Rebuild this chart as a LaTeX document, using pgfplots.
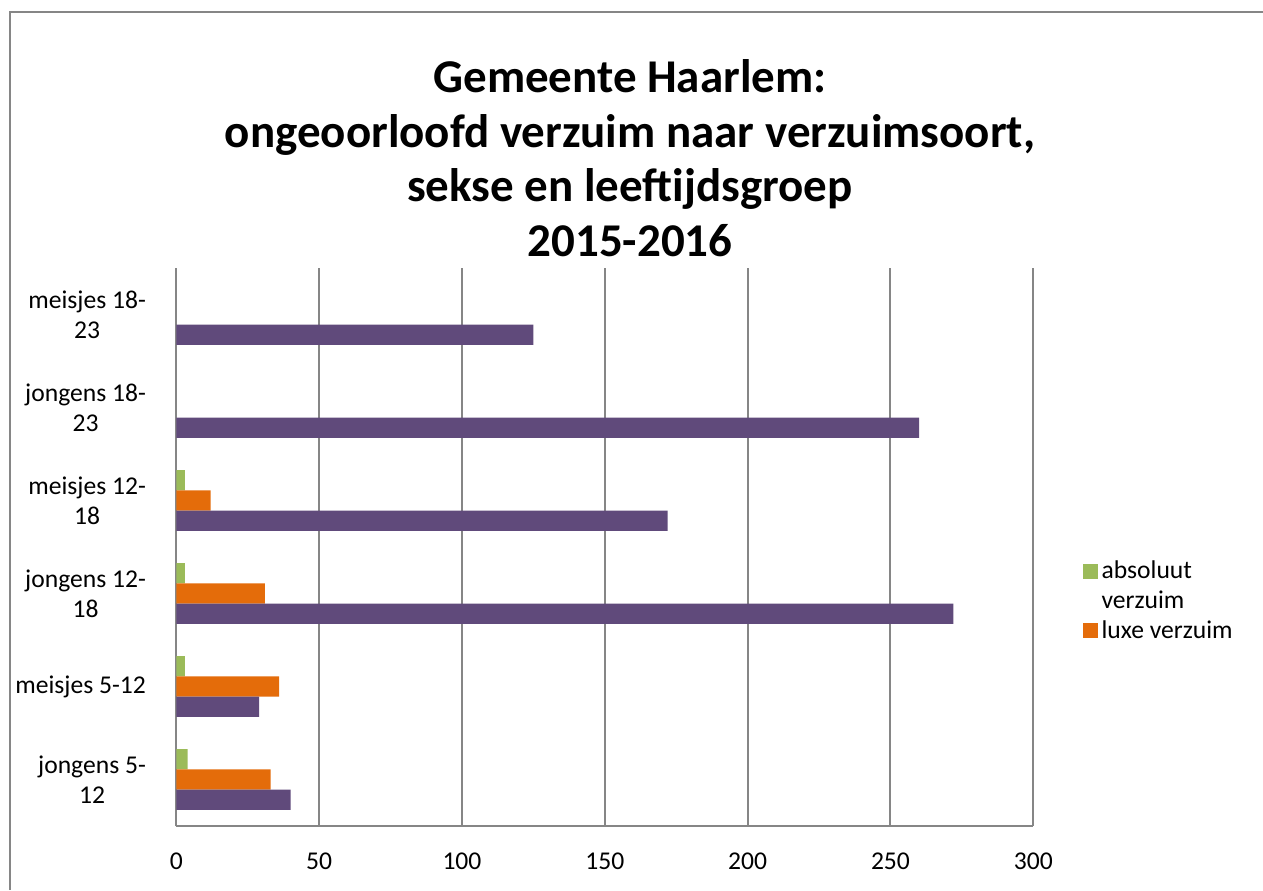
\documentclass[border=0pt]{standalone}
\usepackage{fontspec}
\setmainfont{Carlito}
\usepackage{pgfplots}
\pgfplotsset{compat=1.18}
\definecolor{absgreen}{HTML}{9BBB59}
\definecolor{luxorange}{HTML}{E46C0A}
\definecolor{restpurple}{HTML}{604A7B}
\definecolor{gridgray}{HTML}{868686}

\begin{document}
\begin{tikzpicture}
\useasboundingbox (0,0) rectangle (631.5pt,445pt);
% chart frame, only top and left edges are in view
\draw[gridgray, line width=1pt] (5pt,0) -- (5pt,439.2pt) -- (631.5pt,439.2pt);
\node[align=center, font=\fontsize{23.5}{27.3}\selectfont\bfseries] at (315pt,366pt)
  {Gemeente Haarlem:\\ongeoorloofd verzuim naar verzuimsoort,\\sekse en leeftijdsgroep\\2015-2016};
\begin{axis}[at={(88.15pt,32pt)}, anchor=south west,
  scale only axis, width=428.5pt, height=279pt,
  xbar, bar width=0.218,
  xmin=0, xmax=300, ymin=-0.5, ymax=5.5,
  xtick={0,50,...,300}, ytick={0,...,5},
  yticklabels={{jongens 5-\\12},{meisjes 5-12},{jongens 12-\\18},{meisjes 12-\\18},{jongens 18-\\23},{meisjes 18-\\23}},
  xmajorgrids, major grid style={gridgray, line width=1pt},
  axis x line*=bottom, axis y line*=left,
  axis line style={gridgray, line width=1pt, -},
  major tick length=0pt,
  /pgf/number format/assume math mode=true,
  tick label style={font=\fontsize{12.8}{15}\selectfont},
  yticklabel style={align=center, inner sep=0pt, xshift=-15pt},
  xticklabel style={inner sep=0pt, yshift=-13pt},
  legend style={draw=none, at={(1.05,0.49)}, anchor=north west,
    font=\fontsize{12.8}{15}\selectfont, row sep=0.5pt},
  legend cell align=left,
  legend image code/.code={\fill[#1] (0pt,-3.7pt) rectangle (7.5pt,3.7pt);},
]
\addplot[fill=absgreen, draw=none, bar shift=0.218] coordinates
  {(4,0) (3,1) (3,2) (3,3)};
\addlegendentry{absoluut}
\addlegendimage{empty legend}
\addlegendentry{verzuim}
\addplot[fill=luxorange, draw=none, bar shift=0] coordinates
  {(33,0) (36,1) (31,2) (12,3)};
\addlegendentry{luxe verzuim}
\addplot[fill=restpurple, draw=none, bar shift=-0.218] coordinates
  {(40,0) (29,1) (272,2) (172,3) (260,4) (125,5)};
\end{axis}
\end{tikzpicture}
\end{document}
